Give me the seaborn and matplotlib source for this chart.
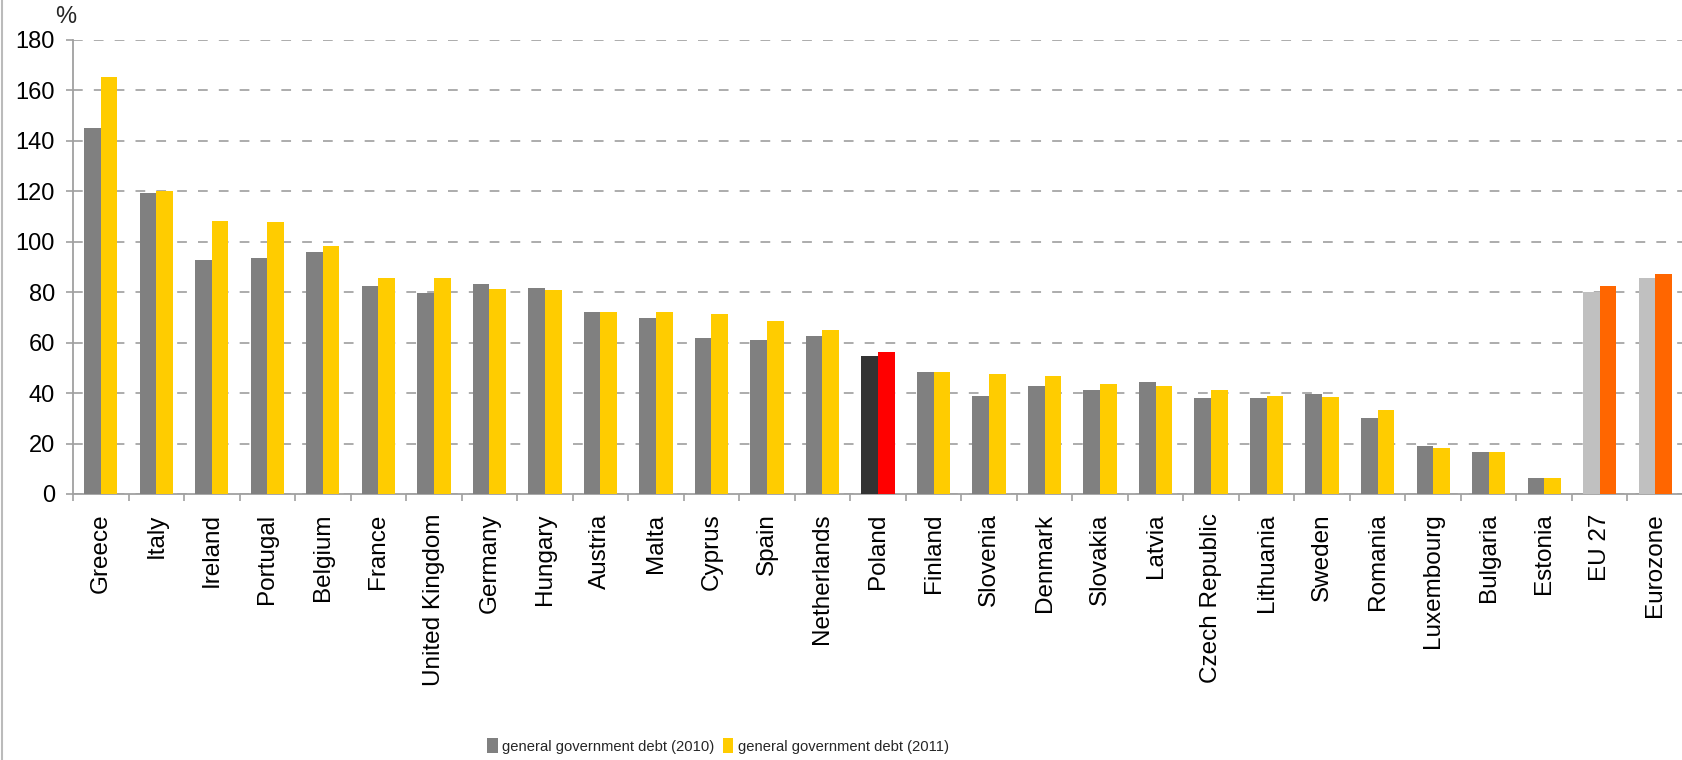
import matplotlib
matplotlib.use("Agg")
import matplotlib.pyplot as plt
import seaborn as sns
import pandas as pd
from matplotlib.patches import Patch
from matplotlib.lines import Line2D
from matplotlib import font_manager

countries = ["Greece", "Italy", "Ireland", "Portugal", "Belgium", "France",
             "United Kingdom", "Germany", "Hungary", "Austria", "Malta", "Cyprus",
             "Spain", "Netherlands", "Poland", "Finland", "Slovenia", "Denmark",
             "Slovakia", "Latvia", "Czech Republic", "Lithuania", "Sweden",
             "Romania", "Luxembourg", "Bulgaria", "Estonia", "EU 27", "Eurozone"]
debt_2010 = [145.0, 119.2, 92.8, 93.5, 96.0, 82.4, 79.5, 83.2, 81.8, 72.3, 69.6, 61.7,
             61.2, 62.8, 54.8, 48.4, 38.9, 42.9, 41.2, 44.4, 38.1, 38.1, 39.7,
             30.3, 19.1, 16.5, 6.5, 80.1, 85.5]
debt_2011 = [165.2, 120.0, 108.1, 108.0, 98.2, 85.7, 85.7, 81.1, 80.9, 72.2, 72.1, 71.4,
             68.4, 65.1, 56.3, 48.4, 47.6, 46.7, 43.6, 42.9, 41.3, 38.9, 38.3,
             33.3, 18.4, 16.5, 6.3, 82.5, 87.3]
series_labels = ["general government debt (2010)", "general government debt (2011)"]

highlight = {"Poland": ("#333333", "#FF0000"),
             "EU 27": ("#C0C0C0", "#FF6600"),
             "Eurozone": ("#C0C0C0", "#FF6600")}
base_colors = ["#808080", "#FFCC00"]

df = pd.DataFrame({
    "country": countries * 2,
    "value": debt_2010 + debt_2011,
    "series": [series_labels[0]] * len(countries) + [series_labels[1]] * len(countries),
})

sns.set_theme(style="white")
plt.rcParams["font.family"] = ["Liberation Sans", "DejaVu Sans"]
plt.rcParams["lines.scale_dashes"] = False

names = {f.name for f in font_manager.fontManager.ttflist}
narrow = "Liberation Sans Narrow" in names
legend_family = "Liberation Sans Narrow" if narrow else "Liberation Sans"
legend_size = 12.5 if narrow else 10.6

fig = plt.figure(figsize=(16.83, 7.60), dpi=100)
ax = fig.add_axes([73 / 1683, 1 - 494 / 760, 1 - 73 / 1683, (494 - 40) / 760])

sns.barplot(data=df, x="country", y="value", hue="series", order=countries,
            hue_order=series_labels, palette=base_colors, width=0.6,
            saturation=1, legend=False, ax=ax, zorder=3)

# recolour highlighted bars
for ci, cont in enumerate(ax.containers):
    for patch in cont:
        idx = int(round(patch.get_x() + patch.get_width() / 2 + (0.15 if ci == 0 else -0.15)))
        name = countries[idx]
        if name in highlight:
            patch.set_facecolor(highlight[name][ci])
        patch.set_edgecolor("none")

ax.set_xlim(-0.5, len(countries) - 0.5)
ax.set_ylim(0, 180)
ax.set_yticks(range(0, 181, 20))
ax.set_xlabel("")
ax.set_ylabel("")

ax.yaxis.grid(True, color="#A6A6A6", linestyle=(0, (7, 8)), linewidth=1.3, zorder=0)
ax.xaxis.grid(False)
ax.set_axisbelow(True)

for s in ["top", "right"]:
    ax.spines[s].set_visible(False)
for s in ["left", "bottom"]:
    ax.spines[s].set_color("#A0A0A0")
    ax.spines[s].set_linewidth(1.3)

ax.tick_params(axis="y", which="major", length=5, width=1.2, color="#A0A0A0",
               pad=8, labelsize=17, labelcolor="black", left=True)
ax.set_xticks(range(len(countries)))
ax.set_xticklabels(countries, rotation=90, va="top", ha="center")
ax.tick_params(axis="x", which="major", length=0, pad=14, labelsize=17.5, labelcolor="black")
ax.set_xticks([i - 0.5 for i in range(len(countries) + 1)], minor=True)
ax.tick_params(axis="x", which="minor", length=5, width=1.2, color="#A0A0A0", bottom=True)

fig.text(66 / 1683, 1 - 17 / 760, "%", ha="center", va="center", fontsize=17)

# left border line of the chart frame
fig.add_artist(Line2D([2 / 1683, 2 / 1683], [0, 1], color="#BBBBBB", linewidth=1.5,
                      transform=fig.transFigure))

handles = [Patch(facecolor=base_colors[0], edgecolor="none", label=series_labels[0]),
           Patch(facecolor=base_colors[1], edgecolor="none", label=series_labels[1])]
fig.legend(handles=handles, loc="center", bbox_to_anchor=(718 / 1683, 1 - 746 / 760),
           ncol=2, frameon=False, handlelength=0.7, handleheight=1.1, handletextpad=0.3,
           columnspacing=0.6, prop={"family": legend_family, "size": legend_size})

fig.savefig("out.png", dpi=100)
